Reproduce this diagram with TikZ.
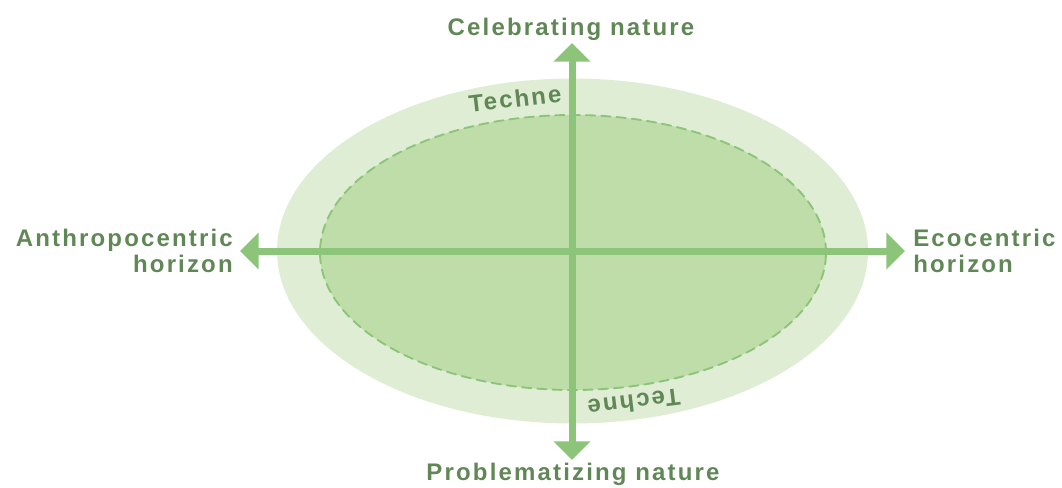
\documentclass[tikz,border=0pt]{standalone}
\usepackage{fontspec}
\setmainfont{Liberation Sans}[LetterSpace=9]
\usetikzlibrary{arrows.meta}
\definecolor{outergreen}{RGB}{223,237,213}
\definecolor{innergreen}{RGB}{190,221,168}
\definecolor{arrowgreen}{RGB}{140,196,121}
\definecolor{textgreen}{RGB}{96,135,86}
\begin{document}
\begin{tikzpicture}[x=.75pt,y=.75pt,line cap=round,>={Triangle[width=27pt,length=14pt]},font=\bfseries\fontsize{18}{19.5}\selectfont,
	lbl/.style={text=textgreen,inner sep=0pt}]
	\def\cx{572.5} \def\cy{236}
	\useasboundingbox (0,0) rectangle (1062,487);
	\fill[outergreen] (\cx,\cy) ellipse [x radius=295.5, y radius=172.5];
	\fill[innergreen] (573,234.5) ellipse [x radius=253, y radius=137.5];
	\draw[arrowgreen,line width=1.4pt,dash pattern=on 7pt off 4.5pt] (573,234.5) ellipse [x radius=253, y radius=137.5];
	\node[lbl,rotate=6.7] (technetop) at (515,388.5) {Techne};
	\node[lbl,rotate=187] (technebot) at (634,84) {Techne};
	\coordinate (N) at (572,444);
	\coordinate (S) at (572,27);
	\coordinate (W) at (240,\cy);
	\coordinate (E) at (905,\cy);
	\draw[<->,arrowgreen,line width=5.25pt] (W)--(E);
	\draw[<->,arrowgreen,line width=5.25pt] (N)--(S);
	\node[lbl,anchor=base] (celebrating) at (571,452) {Celebrating nature};
	\node[lbl,anchor=base] (problematizing) at (573,7) {Problematizing nature};
	\node[lbl,anchor=east,align=right] (anthropo) at (233,\cy) {Anthropocentric\\horizon};
	\node[lbl,anchor=west,align=left] (eco) at (913,\cy) {Ecocentric\\horizon};
\end{tikzpicture}
\end{document}
